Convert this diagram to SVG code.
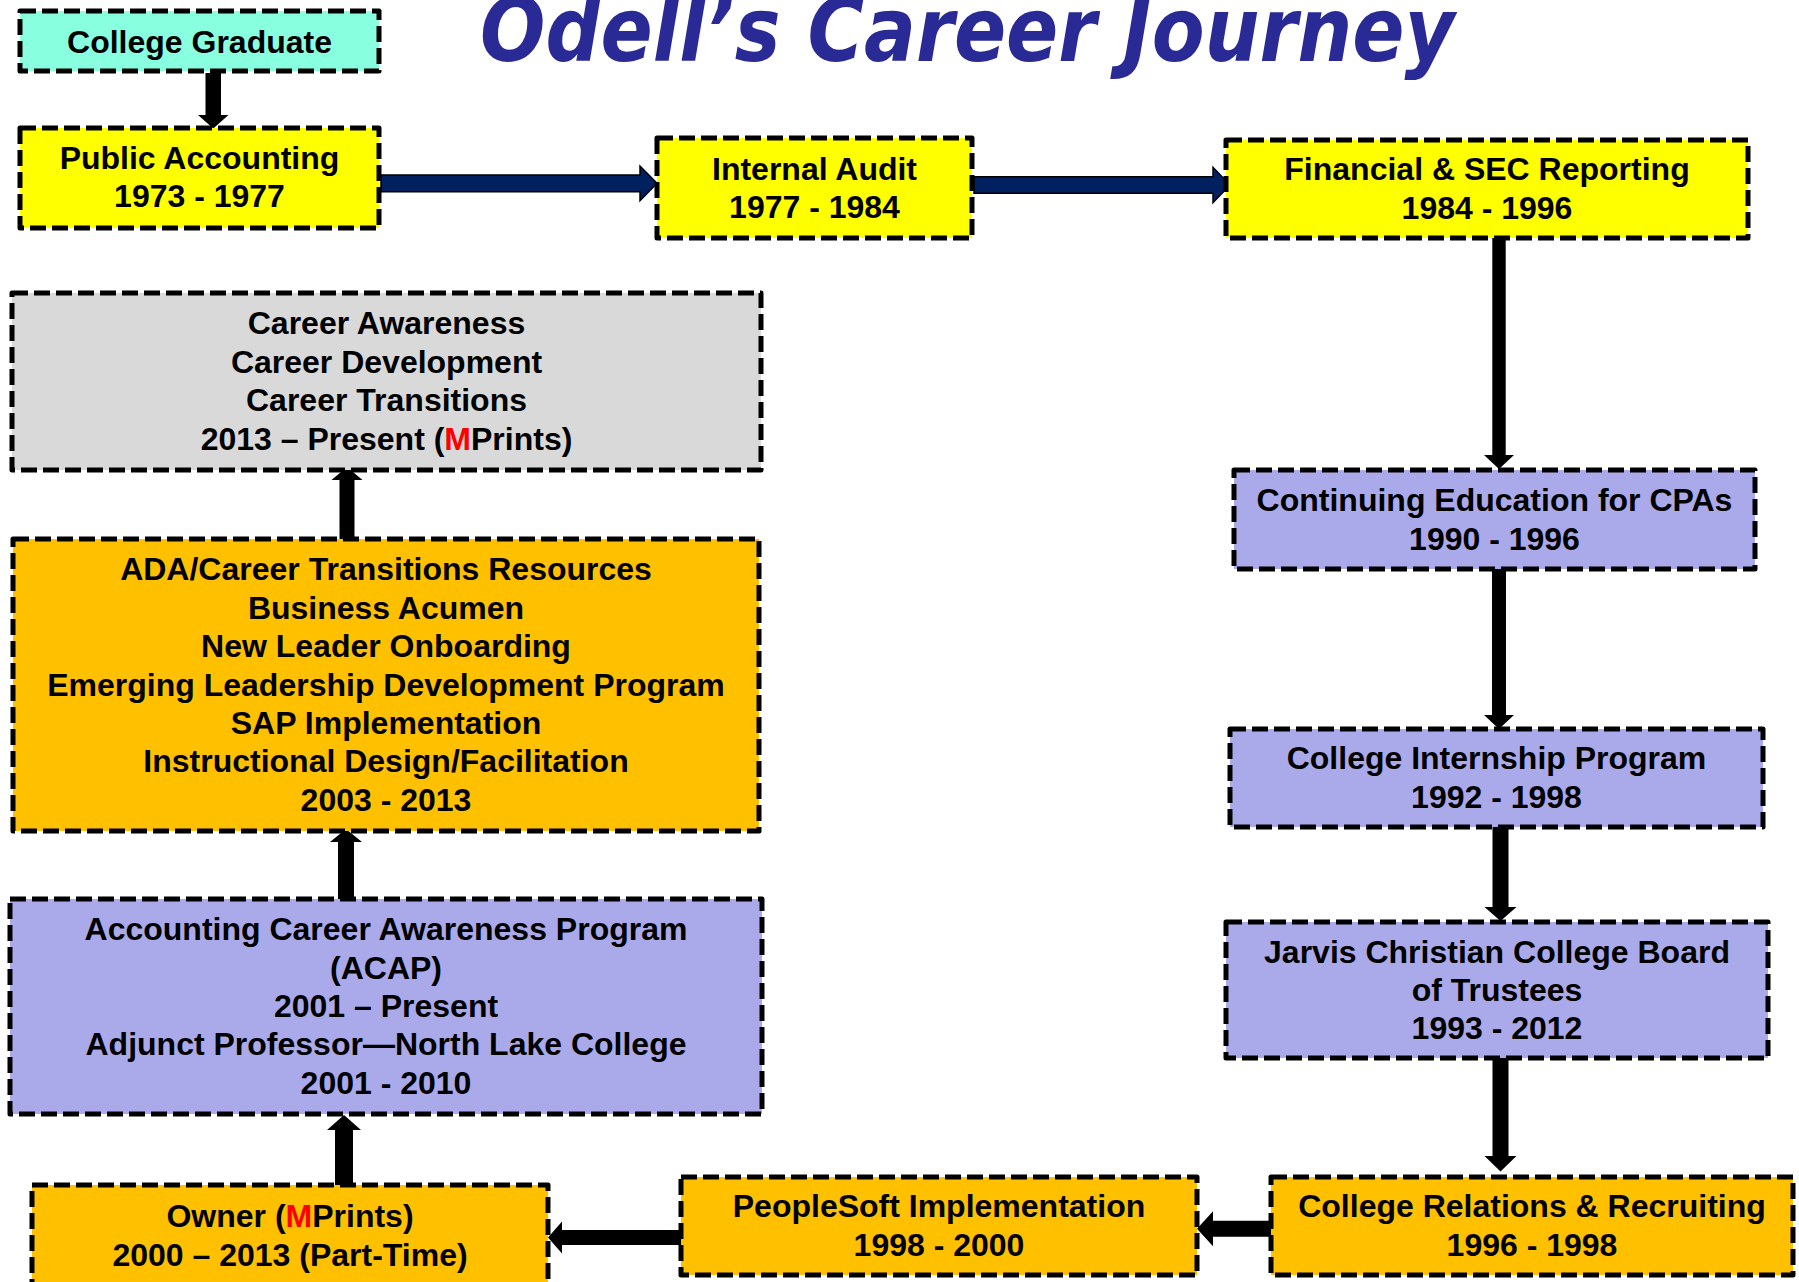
<svg xmlns="http://www.w3.org/2000/svg" width="1799" height="1282" viewBox="0 0 1799 1282">
<style>
.box{stroke:#000;stroke-width:5;stroke-dasharray:16 6;stroke-linejoin:round}
.aqua{fill:#88FFDF}
.yel{fill:#FFFF00}
.lav{fill:#AAAAEB}
.org{fill:#FFC000}
.gry{fill:#D9D9D9}
.t{font-family:"Liberation Sans",Arial,sans-serif;font-weight:bold;font-size:32px;fill:#000;text-anchor:middle}
.r{fill:#FF0000}
.blk{fill:#000}
.navy{fill:#002060;stroke:#000;stroke-width:1.5;stroke-linejoin:miter}
.title{font-family:"DejaVu Sans",Verdana,sans-serif;font-weight:bold;font-style:italic;font-size:77px;fill:#2A2A96}
</style>
<rect width="1799" height="1282" fill="#FFFFFF"/>
<text class="title" transform="translate(480,61) scale(1,1.15)" x="0" y="0">Odell’s Career Journey</text>

<g id="connectors">
<polygon class="navy" points="381,175 640,175 640,166 657,183.3 640,200.7 640,191.7 381,191.7"/>
<polygon class="navy" points="974,176.7 1213,176.7 1213,167.3 1230,185 1213,202.7 1213,193.3 974,193.3"/>
<polygon class="blk" points="205.5,73 221,73 221,115 228.5,115 213.3,128.5 198,115 205.5,115"/>
<polygon class="blk" points="1492.3,238 1505.7,238 1505.7,455 1514,455 1499,469 1484,455 1492.3,455"/>
<polygon class="blk" points="1492,569 1506,569 1506,715 1514,715 1499,729 1484,715 1492,715"/>
<polygon class="blk" points="1492.5,827 1508.5,827 1508.5,907 1516.5,907 1500.5,921 1484.5,907 1492.5,907"/>
<polygon class="blk" points="1492.5,1058 1508.5,1058 1508.5,1156 1516.5,1156 1500.5,1171.5 1484.5,1156 1492.5,1156"/>
<polygon class="blk" points="1271,1220.7 1271,1236.7 1213,1236.7 1213,1246.2 1197,1228.7 1213,1211.2 1213,1220.7"/>
<polygon class="blk" points="681,1230 681,1245 562,1245 562,1253.5 548,1237.5 562,1221.5 562,1230"/>
<polygon class="blk" points="335,1185 353,1185 353,1130 361,1130 344,1115 327,1130 335,1130"/>
<polygon class="blk" points="338,899 354,899 354,842 362,842 346,829 330,842 338,842"/>
<polygon class="blk" points="339.5,539 354.5,539 354.5,480 362.5,480 347,467 331.5,480 339.5,480"/>
</g>

<g id="college-graduate">
<rect class="box aqua" x="20" y="11" width="359" height="60"/>
<text class="t" x="199.5" y="52.5">College Graduate</text>
</g>

<g id="public-accounting">
<rect class="box yel" x="20" y="128" width="359" height="100"/>
<text class="t" x="199.5" y="168.5">Public Accounting</text>
<text class="t" x="199.5" y="207">1973 - 1977</text>
</g>

<g id="internal-audit">
<rect class="box yel" x="657" y="138" width="315" height="100"/>
<text class="t" x="814.5" y="179.5">Internal Audit</text>
<text class="t" x="814.5" y="218">1977 - 1984</text>
</g>

<g id="financial-sec">
<rect class="box yel" x="1226" y="140" width="522" height="98"/>
<text class="t" x="1487" y="180.3">Financial &amp; SEC Reporting</text>
<text class="t" x="1487" y="218.7">1984 - 1996</text>
</g>

<g id="continuing-education">
<rect class="box lav" x="1234" y="470" width="521" height="99"/>
<text class="t" x="1494.5" y="511">Continuing Education for CPAs</text>
<text class="t" x="1494.5" y="549.5">1990 - 1996</text>
</g>

<g id="internship">
<rect class="box lav" x="1230" y="729" width="533" height="98"/>
<text class="t" x="1496.5" y="769.3">College Internship Program</text>
<text class="t" x="1496.5" y="807.7">1992 - 1998</text>
</g>

<g id="jarvis">
<rect class="box lav" x="1226" y="922" width="542" height="136"/>
<text class="t" x="1497" y="962.5">Jarvis Christian College Board</text>
<text class="t" x="1497" y="1000.9">of Trustees</text>
<text class="t" x="1497" y="1039.3">1993 - 2012</text>
</g>

<g id="college-relations">
<rect class="box org" x="1271" y="1177" width="522" height="98"/>
<text class="t" x="1532" y="1217.3">College Relations &amp; Recruiting</text>
<text class="t" x="1532" y="1255.7">1996 - 1998</text>
</g>

<g id="peoplesoft">
<rect class="box org" x="681" y="1177" width="516" height="98"/>
<text class="t" x="939" y="1217.3">PeopleSoft Implementation</text>
<text class="t" x="939" y="1255.7">1998 - 2000</text>
</g>

<g id="owner">
<rect class="box org" x="32" y="1185" width="516" height="100"/>
<text class="t" x="290" y="1227">Owner (<tspan class="r">M</tspan>Prints)</text>
<text class="t" x="290" y="1265.5">2000 – 2013 (Part-Time)</text>
</g>

<g id="acap">
<rect class="box lav" x="10" y="899" width="752" height="215"/>
<text class="t" x="386" y="940.2">Accounting Career Awareness Program</text>
<text class="t" x="386" y="978.6">(ACAP)</text>
<text class="t" x="386" y="1017">2001 – Present</text>
<text class="t" x="386" y="1055.4">Adjunct Professor—North Lake College</text>
<text class="t" x="386" y="1093.8">2001 - 2010</text>
</g>

<g id="ada">
<rect class="box org" x="13" y="539" width="746" height="292"/>
<text class="t" x="386" y="580.3">ADA/Career Transitions Resources</text>
<text class="t" x="386" y="618.7">Business Acumen</text>
<text class="t" x="386" y="657.1">New Leader Onboarding</text>
<text class="t" x="386" y="695.5">Emerging Leadership Development Program</text>
<text class="t" x="386" y="733.9">SAP Implementation</text>
<text class="t" x="386" y="772.3">Instructional Design/Facilitation</text>
<text class="t" x="386" y="810.7">2003 - 2013</text>
</g>

<g id="career-present">
<rect class="box gry" x="12" y="293" width="749" height="177"/>
<text class="t" x="386.5" y="334.4">Career Awareness</text>
<text class="t" x="386.5" y="372.8">Career Development</text>
<text class="t" x="386.5" y="411.2">Career Transitions</text>
<text class="t" x="386.5" y="449.6">2013 – Present (<tspan class="r">M</tspan>Prints)</text>
</g>
</svg>
